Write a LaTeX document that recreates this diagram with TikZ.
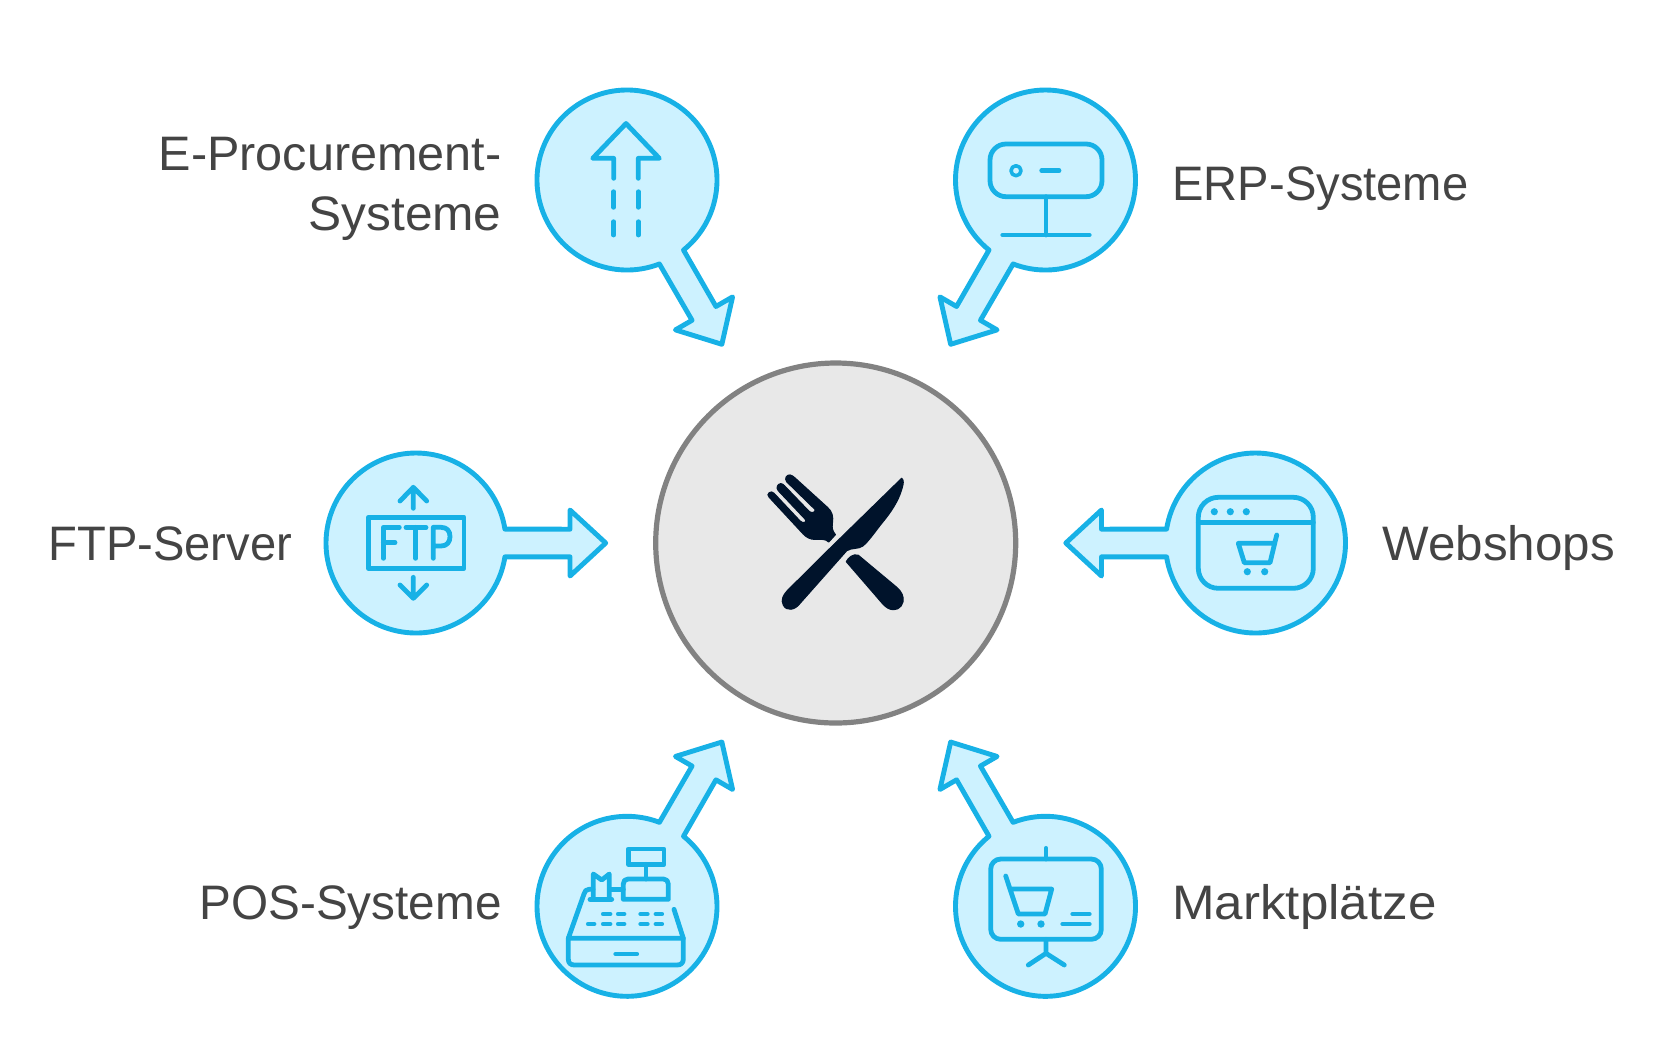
\documentclass[tikz,border=0pt]{standalone}
\usepackage{fontspec}
\setmainfont{Liberation Sans}
\definecolor{bline}{HTML}{17B1E6}
\definecolor{bfill}{HTML}{CDF2FF}
\definecolor{hubfill}{HTML}{E8E8E8}
\definecolor{hubline}{HTML}{828282}
\definecolor{navy}{HTML}{00132B}
\definecolor{txt}{HTML}{444444}
\newcommand{\st}[1]{\addfontfeature{FakeStretch=#1}}
\tikzset{
  bubble/.style={draw=bline,fill=bfill,line width=2.45pt,line join=round},
  icon/.style={draw=bline,line width=2.4pt,line cap=round,line join=round},
  dotmark/.style={fill=bline,draw=none},
  cutlery/.style={fill=navy,draw=navy,line width=.6pt,line join=round},
  lblr/.style={anchor=base east,text=txt,font=\fontsize{24.2}{28}\selectfont,inner sep=0pt},
  lbll/.style={anchor=base west,text=txt,font=\fontsize{24.2}{28}\selectfont,inner sep=0pt},
  hub/.style={circle,draw=hubline,fill=hubfill,line width=2.6pt,minimum size=180pt,inner sep=0pt,outer sep=0pt}
}
\newcommand{\bubbleat}[3]{%
  \draw[bubble,shift={(#1,#2)},rotate=#3]
    (8.9:90) arc[start angle=8.9,end angle=351.1,radius=90]
    -- (154,-13.8) -- (154,-33) -- (189.7,0) -- (154,33) -- (154,13.8) -- cycle;}
\begin{document}
\begin{tikzpicture}[x=1pt,y=1pt,xscale=.5,yscale=-.5]
\useasboundingbox (0,0) rectangle (1680,1057);

% hub
\node[hub] (center) at (835.7,543) {};

% bubbles with arrows
\bubbleat{627}{180}{60}
\bubbleat{1045.5}{180}{120}
\bubbleat{416}{543}{0}
\bubbleat{1255.5}{543}{180}
\bubbleat{627}{906.3}{-60}
\bubbleat{1045.5}{906.3}{-120}

% labels
\node[lblr] (l1a) at (502,170) {\st{1.004}E-Procurement-};
\node[lblr] (l1b) at (502,230) {\st{1.026}Systeme};
\node[lbll] (l2) at (1172,200) {\st{0.974}ERP-Systeme};
\node[lbll] (l3) at (48,560) {\st{0.974}FTP-Server};
\node[lbll] (l4) at (1382,560) {\st{1.02}Webshops};
\node[lblr] (l5) at (502,919) {\st{0.985}POS-Systeme};
\node[lbll] (l6) at (1172,919) {\st{1.056}Marktplätze};

% E-Procurement icon
\draw[icon] (613.7,178.3) -- (613.7,158.3) -- (592.7,158.3) -- (626,123.5) -- (659.3,158.3) -- (638.3,158.3) -- (638.3,178.3);
\draw[icon] (613.7,191.7) -- (613.7,207.3) (638.3,191.7) -- (638.3,207.3)
            (613.7,221.7) -- (613.7,235) (638.3,221.7) -- (638.3,235);

% ERP icon
\draw[icon,rounded corners=8] (990,144) rectangle (1102,196.7);
\draw[icon,line width=1.8pt] (1016,170.7) circle[radius=5];
\draw[icon] (1041.7,170.7) -- (1059,170.7);
\draw[icon] (1046,196.7) -- (1046,235) (1002.7,235) -- (1089.3,235);

% FTP icon
\draw[icon] (368.3,517.3) rectangle (464,568.3);
\draw[icon] (413.3,508.3) -- (413.3,487.3) (400,501) -- (413.3,487.3) -- (426.7,501);
\draw[icon] (413.3,577.3) -- (413.3,598.3) (400,585) -- (413.3,598.3) -- (426.7,585);
\draw[icon] (383.3,558.3) -- (383.3,527.3) -- (399.3,527.3) (383.3,542.7) -- (395,542.7);
\draw[icon] (406,527.3) -- (426,527.3) (415.7,527.3) -- (415.7,558.3);
\draw[icon] (433.3,558.3) -- (433.3,527.3) -- (441,527.3) .. controls (447,527.3) and (450,531) .. (450,536.5) .. controls (450,542) and (447,546) .. (441,546) -- (433.3,546);

% Webshop icon
\draw[icon,rounded corners=10] (1198.3,497.3) rectangle (1313.3,588.3);
\draw[icon] (1198.3,522.7) -- (1313.3,522.7);
\fill[dotmark] (1214.3,511.7) circle[radius=3.6] (1230.3,511.7) circle[radius=3.6] (1246.3,511.7) circle[radius=3.6];
\draw[icon] (1276.7,535) -- (1270,562.7) -- (1244.3,562.7) -- (1238.3,543.3) -- (1272.7,543.3);
\fill[dotmark] (1247.3,571.7) circle[radius=3.6] (1264.7,571.7) circle[radius=3.6];

% POS icon
\draw[icon] (628.3,849) rectangle (664,864.3);
\draw[icon] (646,864.3) -- (646,879);
\draw[icon] (623.3,899.3) -- (623.3,884) .. controls (623.3,881) and (625,879) .. (628,879) -- (663.5,879) .. controls (666.5,879) and (668.3,881) .. (668.3,884) -- (668.3,899.3) -- cycle;
\draw[icon] (611.7,889.3) -- (623.3,889.3);
\draw[icon] (593.3,898.3) -- (593.3,874) -- (601.7,880) -- (609.3,874) -- (609.3,898.3);
\draw[icon] (590,899.3) -- (611.7,899.3);
\draw[icon] (593,889.3) -- (589,889.3) .. controls (586,889.3) and (585,891) .. (584,894) -- (568.3,938.3);
\draw[icon] (674,909.3) -- (683.3,938.3);
\draw[icon] (568.3,938.3) -- (683.3,938.3) -- (683.3,959) .. controls (683.3,963) and (681,965) .. (677,965) -- (574.5,965) .. controls (570.5,965) and (568.3,963) .. (568.3,959) -- cycle;
\draw[icon] (615.7,954) -- (636.7,954);
\draw[icon] (603.3,914) -- (610,914) (618.3,914) -- (624,914) (640.7,914) -- (647.3,914) (656,914) -- (661.7,914);
\draw[icon] (588.3,924) -- (594,924) (603.3,924) -- (610,924) (618.3,924) -- (624,924) (640.7,924) -- (647.3,924) (656,924) -- (661.7,924);

% Marktplaetze icon
\draw[icon,rounded corners=5] (990.7,859) rectangle (1101.3,939.3);
\draw[icon] (1046,848.3) -- (1046,859);
\draw[icon] (1046,939.3) -- (1046,953.3) (1028.3,965) -- (1046,953.3) -- (1064.3,965);
\draw[icon] (1005.7,876) -- (1018.3,914) -- (1045,914) -- (1051.7,889) -- (1011.7,889);
\fill[dotmark] (1020.7,924) circle[radius=3.7] (1041,924) circle[radius=3.7];
\draw[icon] (1072.7,914) -- (1089.3,914) (1062.7,924) -- (1089.3,924);

% cutlery, zoom coordinates
\begin{scope}[shift={(750,460)},scale=.33333]
\draw[cutlery] (455,55) .. controls (462,60) and (460,72) .. (456,85)
  .. controls (445,125) and (420,160) .. (395,190)
  .. controls (375,215) and (355,245) .. (338,258)
  .. controls (325,268) and (305,262) .. (290,272)
  -- (150,430) .. controls (135,450) and (110,455) .. (100,435)
  .. controls (92,420) and (100,405) .. (112,392)
  -- (240,265) -- cycle;
\draw[cutlery] (58,98) .. controls (62,94) and (68,96) .. (72,100)
  -- (150,183) .. controls (158,190) and (168,190) .. (168,180)
  -- (85,92) .. controls (78,84) and (82,72) .. (92,71)
  .. controls (97,71) and (100,74) .. (103,77)
  -- (178,155) .. controls (188,162) and (198,155) .. (195,148)
  -- (110,65) .. controls (103,55) and (110,44) .. (120,45)
  .. controls (125,45) and (130,50) .. (135,54)
  -- (232,142) .. controls (247,155) and (250,170) .. (247,190)
  .. controls (245,205) and (247,212) .. (256,224)
  -- (236,246) .. controls (228,236) and (215,238) .. (195,238)
  .. controls (180,238) and (170,232) .. (160,222)
  -- (58,112) .. controls (52,106) and (53,102) .. (58,98) -- cycle;
\draw[cutlery] (289,305) .. controls (295,293) and (310,280) .. (325,286)
  -- (440,382) .. controls (455,395) and (462,410) .. (459,425)
  .. controls (455,445) and (435,455) .. (415,445)
  .. controls (405,440) and (395,428) .. (385,416)
  -- cycle;
\end{scope}
\end{tikzpicture}
\end{document}
